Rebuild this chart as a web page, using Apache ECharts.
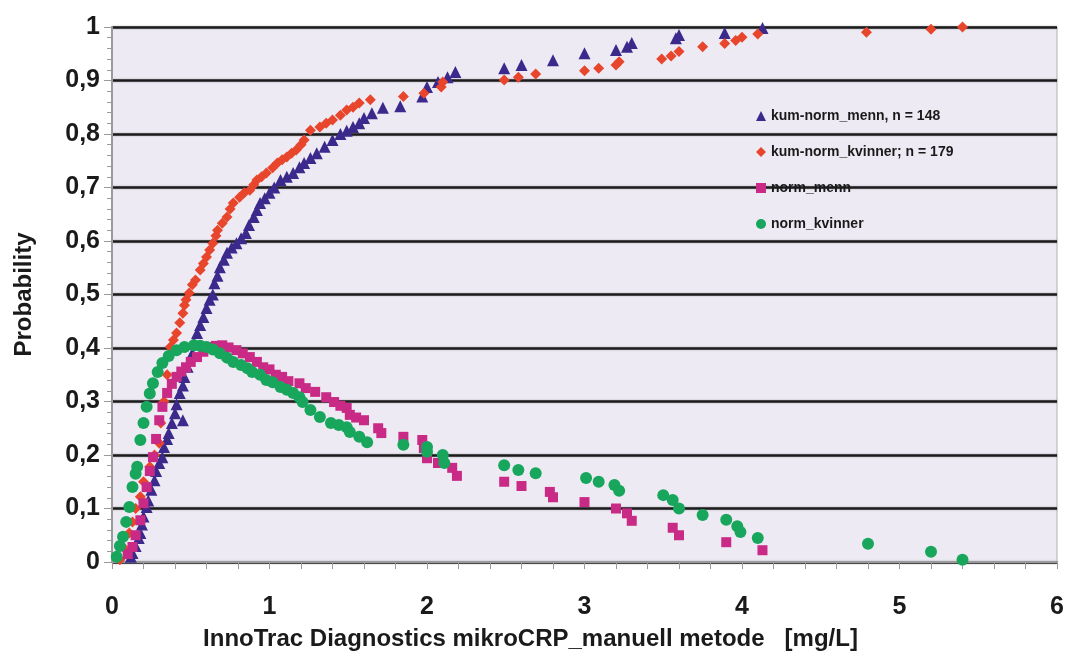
<!DOCTYPE html>
<html>
<head>
<meta charset="utf-8">
<script src="https://cdn.jsdelivr.net/npm/echarts@6/dist/echarts.min.js"></script>
<style>
html,body{margin:0;padding:0;background:#fff;}
#c{width:1066px;height:654px;}
</style>
</head>
<body>
<div id="c"></div>
<script>
const seriesNames = ['kum-norm_menn, n = 148', 'kum-norm_kvinner; n = 179', 'norm_menn', 'norm_kvinner'];
const xTicks = [0, 1, 2, 3, 4, 5, 6];
const yTicks = [0, 0.1, 0.2, 0.3, 0.4, 0.5, 0.6, 0.7, 0.8, 0.9, 1];

const kumMenn = [[0.12,0.01],[0.13,0.017],[0.15,0.03],[0.17,0.045],[0.18,0.054],[0.19,0.07],[0.2,0.085],[0.22,0.103],[0.23,0.115],[0.25,0.135],[0.27,0.153],[0.28,0.17],[0.3,0.185],[0.32,0.196],[0.33,0.215],[0.35,0.23],[0.36,0.241],[0.38,0.26],[0.4,0.278],[0.41,0.295],[0.43,0.316],[0.45,0.265],[0.45,0.33],[0.46,0.346],[0.48,0.365],[0.51,0.39],[0.52,0.41],[0.54,0.428],[0.56,0.443],[0.58,0.458],[0.6,0.475],[0.62,0.49],[0.64,0.5],[0.65,0.521],[0.67,0.535],[0.685,0.551],[0.71,0.565],[0.73,0.578],[0.76,0.588],[0.79,0.596],[0.82,0.605],[0.85,0.615],[0.87,0.63],[0.9,0.645],[0.92,0.658],[0.94,0.671],[0.97,0.68],[1.0,0.69],[1.03,0.7],[1.07,0.714],[1.11,0.72],[1.15,0.727],[1.19,0.738],[1.22,0.746],[1.26,0.755],[1.3,0.764],[1.35,0.776],[1.4,0.789],[1.45,0.8],[1.49,0.806],[1.53,0.813],[1.57,0.82],[1.6,0.83],[1.65,0.839],[1.72,0.849],[1.83,0.852],[1.97,0.87],[2.0,0.888],[2.07,0.897],[2.13,0.906],[2.18,0.916],[2.49,0.923],[2.6,0.929],[2.8,0.938],[3.0,0.951],[3.2,0.957],[3.27,0.963],[3.3,0.97],[3.58,0.979],[3.6,0.985],[3.89,0.989],[4.13,0.998]];

const kumKvinner = [[0.05,0.004],[0.08,0.025],[0.11,0.054],[0.13,0.075],[0.15,0.1],[0.18,0.122],[0.2,0.15],[0.24,0.178],[0.27,0.2],[0.3,0.222],[0.31,0.26],[0.33,0.3],[0.35,0.35],[0.37,0.402],[0.39,0.415],[0.41,0.428],[0.43,0.447],[0.45,0.465],[0.46,0.48],[0.47,0.49],[0.49,0.503],[0.51,0.518],[0.53,0.527],[0.56,0.546],[0.58,0.558],[0.6,0.57],[0.62,0.583],[0.64,0.596],[0.66,0.61],[0.67,0.62],[0.7,0.633],[0.73,0.645],[0.75,0.66],[0.77,0.671],[0.81,0.682],[0.84,0.69],[0.875,0.695],[0.9,0.705],[0.92,0.714],[0.95,0.72],[0.98,0.727],[1.02,0.737],[1.05,0.746],[1.08,0.752],[1.11,0.757],[1.14,0.764],[1.17,0.77],[1.2,0.78],[1.22,0.789],[1.26,0.807],[1.32,0.813],[1.36,0.82],[1.4,0.826],[1.45,0.835],[1.49,0.845],[1.53,0.85],[1.57,0.858],[1.64,0.864],[1.85,0.87],[1.98,0.876],[2.09,0.888],[2.1,0.897],[2.49,0.901],[2.58,0.906],[2.69,0.912],[3.0,0.918],[3.09,0.923],[3.2,0.929],[3.22,0.935],[3.49,0.94],[3.55,0.946],[3.6,0.954],[3.75,0.963],[3.89,0.969],[3.96,0.975],[4.0,0.981],[4.1,0.987],[4.79,0.99],[5.2,0.996],[5.4,1.0]];

const normMenn = [[0.1,0.015],[0.13,0.028],[0.15,0.05],[0.18,0.078],[0.2,0.11],[0.22,0.14],[0.24,0.17],[0.26,0.196],[0.28,0.23],[0.3,0.265],[0.32,0.29],[0.35,0.316],[0.38,0.333],[0.41,0.346],[0.44,0.356],[0.47,0.364],[0.5,0.374],[0.54,0.383],[0.58,0.393],[0.62,0.402],[0.66,0.404],[0.7,0.405],[0.74,0.401],[0.79,0.396],[0.83,0.39],[0.875,0.383],[0.92,0.374],[0.96,0.364],[1.0,0.36],[1.04,0.35],[1.08,0.346],[1.12,0.338],[1.19,0.334],[1.23,0.325],[1.29,0.318],[1.36,0.308],[1.41,0.299],[1.45,0.292],[1.49,0.288],[1.51,0.275],[1.55,0.27],[1.6,0.265],[1.69,0.25],[1.71,0.241],[1.85,0.234],[1.97,0.228],[1.98,0.213],[2.0,0.194],[2.07,0.185],[2.16,0.176],[2.19,0.161],[2.49,0.15],[2.6,0.142],[2.78,0.131],[2.8,0.121],[3.0,0.112],[3.2,0.1],[3.27,0.091],[3.3,0.077],[3.56,0.064],[3.6,0.05],[3.9,0.037],[4.13,0.022]];

const normKvinner = [[0.03,0.01],[0.05,0.03],[0.07,0.047],[0.09,0.075],[0.11,0.103],[0.13,0.14],[0.15,0.165],[0.16,0.178],[0.18,0.228],[0.2,0.26],[0.22,0.29],[0.24,0.315],[0.26,0.334],[0.29,0.355],[0.32,0.372],[0.36,0.385],[0.41,0.396],[0.46,0.402],[0.52,0.405],[0.56,0.404],[0.6,0.402],[0.64,0.397],[0.685,0.39],[0.73,0.382],[0.77,0.374],[0.82,0.368],[0.86,0.362],[0.89,0.355],[0.94,0.35],[0.98,0.34],[1.02,0.336],[1.07,0.327],[1.11,0.322],[1.15,0.316],[1.19,0.308],[1.21,0.299],[1.26,0.284],[1.32,0.271],[1.39,0.26],[1.44,0.256],[1.49,0.252],[1.51,0.243],[1.57,0.234],[1.62,0.224],[1.85,0.219],[2.0,0.215],[2.0,0.206],[2.1,0.2],[2.11,0.185],[2.49,0.181],[2.58,0.172],[2.69,0.166],[3.01,0.157],[3.09,0.15],[3.19,0.144],[3.22,0.133],[3.5,0.125],[3.56,0.116],[3.6,0.1],[3.75,0.088],[3.9,0.079],[3.97,0.067],[3.99,0.056],[4.1,0.045],[4.8,0.034],[5.2,0.019],[5.4,0.004]];

const FONT = "'Liberation Sans', Arial, sans-serif";
const chart = echarts.init(document.getElementById('c'));
const mk = (name, data, symbol, size, color) => ({
  name, type: 'scatter', data, symbol, symbolSize: size,
  itemStyle: { color, opacity: 1 }, emphasis: { disabled: true }, animation: false
});
chart.setOption({
  animation: false,
  backgroundColor: '#ffffff',
  grid: { left: 112, right: 9, top: 27, bottom: 92, containLabel: false, outerBoundsMode: 'none', show: true, backgroundColor: '#EEEAF4', borderColor: '#B0B0B0', borderWidth: 1 },
  legend: {
    orient: 'vertical', left: 751, top: 104, itemGap: 22, itemWidth: 10, itemHeight: 10,
    textStyle: { fontFamily: FONT, fontWeight: 'bold', fontSize: 14, color: '#1a1a1a' },
    data: [
      { name: seriesNames[0], icon: 'triangle' },
      { name: seriesNames[1], icon: 'diamond' },
      { name: seriesNames[2], icon: 'rect' },
      { name: seriesNames[3], icon: 'circle' }
    ]
  },
  xAxis: {
    type: 'value', min: xTicks[0], max: xTicks[xTicks.length - 1], interval: 1,
    name: 'InnoTrac Diagnostics mikroCRP_manuell metode   [mg/L]', nameLocation: 'middle', nameGap: 65,
    nameTextStyle: { fontFamily: FONT, fontWeight: 'bold', fontSize: 24, color: '#1a1a1a', padding: [0, 108, 0, 0] },
    axisLine: { show: true, lineStyle: { color: '#9a9a9a', width: 2 } },
    axisTick: { show: true, length: 7, lineStyle: { color: '#9a9a9a' } },
    minorTick: { show: true, splitNumber: 5, length: 7, lineStyle: { color: '#9a9a9a' } },
    splitLine: { show: false },
    axisLabel: { margin: 33, fontFamily: FONT, fontWeight: 'bold', fontSize: 25, color: '#1a1a1a' }
  },
  yAxis: {
    type: 'value', min: yTicks[0], max: yTicks[yTicks.length - 1], interval: 0.1,
    name: 'Probability', nameLocation: 'middle', nameGap: 76,
    nameTextStyle: { fontFamily: FONT, fontWeight: 'bold', fontSize: 24, color: '#1a1a1a' },
    axisLine: { show: true, lineStyle: { color: '#9a9a9a', width: 2 } },
    axisTick: { show: true, length: 8, lineStyle: { color: '#9a9a9a' } },
    minorTick: { show: true, splitNumber: 5, length: 5, lineStyle: { color: '#9a9a9a' } },
    splitLine: { show: true, lineStyle: { color: '#1c1c1c', width: 2.5, shadowColor: 'rgba(0,0,0,0.35)', shadowBlur: 2 } },
    axisLabel: {
      margin: 12, fontFamily: FONT, fontWeight: 'bold', fontSize: 25, color: '#1a1a1a',
      formatter: v => (Math.abs(v) < 1e-9 ? '0' : Math.abs(v - 1) < 1e-9 ? '1' : v.toFixed(1).replace('.', ','))
    }
  },
  series: [
    mk(seriesNames[0], kumMenn, 'triangle', 12, '#3B2A8C'),
    mk(seriesNames[1], kumKvinner, 'diamond', 11, '#E8462C'),
    mk(seriesNames[2], normMenn, 'rect', 10, '#C92A85'),
    mk(seriesNames[3], normKvinner, 'circle', 12, '#17A65C')
  ]
});
</script>
</body>
</html>
